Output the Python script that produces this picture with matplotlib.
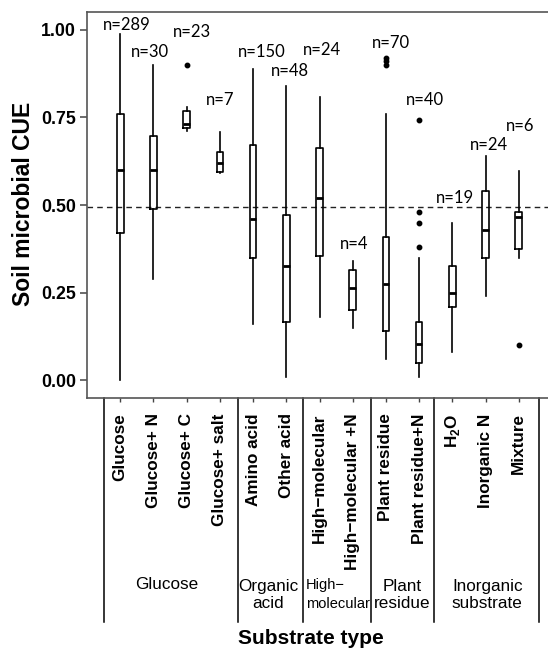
import matplotlib
matplotlib.use("Agg")
import matplotlib.pyplot as plt

plt.rcParams['font.family'] = ['Liberation Sans', 'DejaVu Sans']
plt.rcParams['mathtext.fontset'] = 'custom'
plt.rcParams['mathtext.rm'] = 'Liberation Sans'
plt.rcParams['mathtext.bf'] = 'Liberation Sans:bold'

# ---- data ----
categories = ["Glucose", "Glucose+ N", "Glucose+ C", "Glucose+ salt",
              "Amino acid", "Other acid", "High\u2212molecular", "High\u2212molecular +N",
              "Plant residue", "Plant residue+N", "H$_\\mathbf{2}$O", "Inorganic N", "Mixture"]
whislo = [0.00, 0.29, 0.71, 0.59, 0.16, 0.01, 0.18, 0.15, 0.06, 0.01, 0.08, 0.24, 0.35]
q1     = [0.42, 0.49, 0.72, 0.593, 0.35, 0.166, 0.356, 0.202, 0.14, 0.049, 0.209, 0.35, 0.375]
med    = [0.60, 0.60, 0.73, 0.62, 0.46, 0.325, 0.519, 0.264, 0.274, 0.104, 0.25, 0.43, 0.465]
q3     = [0.76, 0.698, 0.769, 0.65, 0.67, 0.472, 0.662, 0.316, 0.41, 0.168, 0.325, 0.539, 0.479]
whishi = [0.987, 0.899, 0.779, 0.707, 0.888, 0.838, 0.807, 0.339, 0.76, 0.349, 0.448, 0.639, 0.598]
fliers = [[], [], [0.90], [], [], [], [], [], [0.92, 0.91, 0.90],
          [0.741, 0.479, 0.449, 0.38], [], [], [0.10]]
n_labels = ["n=289", "n=30", "n=23", "n=7", "n=150", "n=48", "n=24", "n=4",
            "n=70", "n=40", "n=19", "n=24", "n=6"]
n_label_y = [1.014, 0.937, 0.994, 0.798, 0.937, 0.883, 0.943, 0.390,
             0.963, 0.798, 0.519, 0.672, 0.724]
n_label_dx = [0.2, -0.1, 0.17, 0.0, 0.25, 0.12, 0.08, 0.05, 0.16, 0.17, 0.08, 0.1, 0.04]
groups = ["Glucose", "Organic\nacid", "High\u2212\nmolecular", "Plant\nresidue", "Inorganic\nsubstrate"]
reference_cue = 0.494

# ---- figure ----
fig = plt.figure(figsize=(5.48, 6.5), dpi=100)
ax = fig.add_axes([87/548, 1-398/650, 465/548, 386/650])

positions = list(range(1, len(categories)+1))
stats = []
for i in range(len(categories)):
    stats.append(dict(whislo=whislo[i], q1=q1[i], med=med[i], q3=q3[i],
                      whishi=whishi[i], fliers=fliers[i]))

ax.bxp(stats, positions=positions, widths=0.2, showcaps=False,
       boxprops=dict(color='black', linewidth=1.2),
       whiskerprops=dict(color='black', linewidth=1.2),
       medianprops=dict(color='black', linewidth=2.0),
       flierprops=dict(marker='o', markerfacecolor='black', markeredgecolor='black',
                       markersize=3.2, linestyle='none'))

ax.axhline(reference_cue, color='#222222', linestyle=(0, (4, 3)), linewidth=1.0, zorder=0)

for p, lab, yy, dx in zip(positions, n_labels, n_label_y, n_label_dx):
    ax.text(p + dx, yy, lab, ha='center', va='center', fontsize=12,
            family=['Lato', 'DejaVu Sans'])

ax.set_xlim(0, 14)
ax.set_ylim(-0.05, 1.05)
ax.set_yticks([0.0, 0.25, 0.5, 0.75, 1.0])
ax.set_yticklabels(["0.00", "0.25", "0.50", "0.75", "1.00"], fontsize=12.8, fontweight='bold')
ax.tick_params(axis='y', length=5, width=1.1, pad=3, color='#444444')
ax.set_xticks(positions)
ax.set_xticklabels(categories, rotation=90, fontsize=12.3, fontweight='bold', va='top')
ax.tick_params(axis='x', length=3, width=1.0, pad=8, color='#444444')
for s in ['left', 'top', 'bottom', 'right']:
    ax.spines[s].set_color('#555555')
    ax.spines[s].set_linewidth(1.2)

# group separators and labels
tr = ax.get_xaxis_transform()
for xs in [0.5, 4.55, 6.5, 8.55, 10.45, 13.6]:
    ax.plot([xs, xs], [0, -0.58], transform=tr, clip_on=False, color='black', linewidth=1.1)

ax.text(2.4, -0.484, groups[0], transform=tr, ha='center', va='center', fontsize=12.3)
ax.text(5.45, -0.51, groups[1], transform=tr, ha='center', va='center', fontsize=12.3,
        linespacing=1.2)
ax.text(6.6, -0.51, groups[2], transform=tr, ha='left', va='center', fontsize=10.5,
        linespacing=1.45)
ax.text(9.48, -0.51, groups[3], transform=tr, ha='center', va='center', fontsize=12.3,
        linespacing=1.2)
ax.text(12.05, -0.51, groups[4], transform=tr, ha='center', va='center', fontsize=12.3,
        linespacing=1.2)

fig.text(311/548, 1-639/650, "Substrate type", ha='center', va='center',
         fontsize=15, fontweight='bold')
fig.text(24/548, 1-204/650, "Soil microbial CUE", ha='center', va='center',
         rotation=90, fontsize=16.5, fontweight='bold')

fig.savefig("out.png", dpi=100)
